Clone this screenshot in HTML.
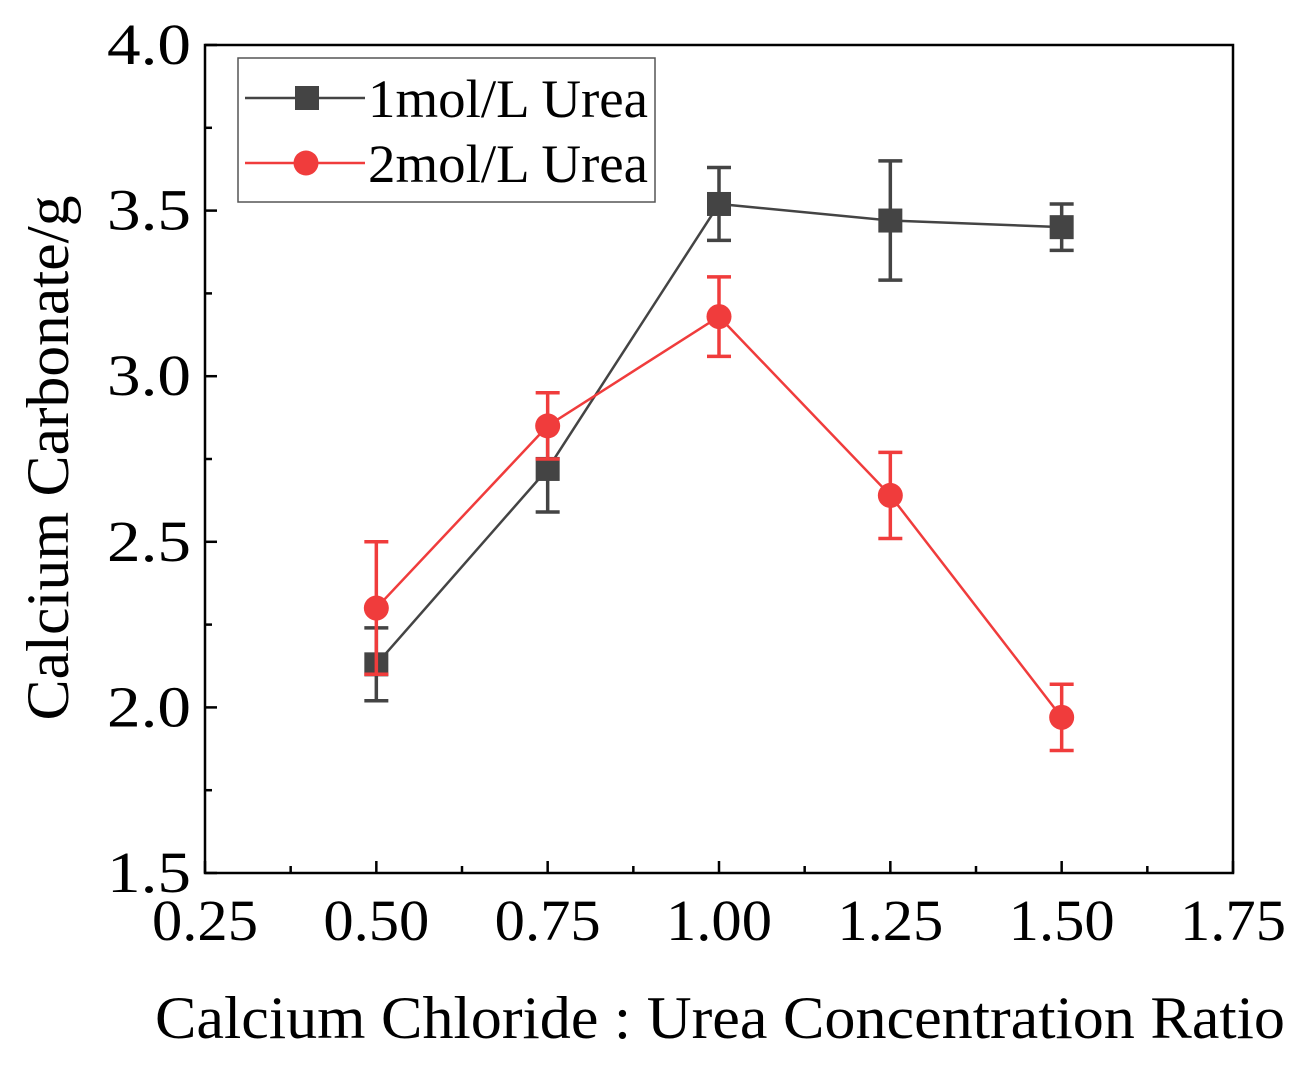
<!DOCTYPE html>
<html><head><meta charset="utf-8"><style>
html,body{margin:0;padding:0;background:#fff;width:1308px;height:1067px;overflow:hidden}
text{font-family:"Liberation Serif",serif;fill:#000}
</style></head><body>
<svg id="chart" width="1308" height="1067" xmlns="http://www.w3.org/2000/svg"></svg>
<script>
const categories=[0.5,0.75,1.0,1.25,1.5];
const s1Values=[2.13,2.72,3.52,3.47,3.45];
const s1Errors=[0.11,0.13,0.11,0.18,0.07];
const s2Values=[2.30,2.85,3.18,2.64,1.97];
const s2Errors=[0.20,0.10,0.12,0.13,0.10];
const xTicks=[0.25,0.5,0.75,1.0,1.25,1.5,1.75];
const xTickLabels=["0.25","0.50","0.75","1.00","1.25","1.50","1.75"];
const yTicks=[1.5,2.0,2.5,3.0,3.5,4.0];
const yTickLabels=["1.5","2.0","2.5","3.0","3.5","4.0"];

const L=205,R=1233,T=45,B=873;
const X=v=>L+(v-0.25)/1.5*(R-L);
const Y=v=>B-(v-1.5)/2.5*(B-T);
const svg=document.getElementById('chart');
const NS='http://www.w3.org/2000/svg';
function mk(tag,attrs,parent){const e=document.createElementNS(NS,tag);for(const k in attrs)e.setAttribute(k,attrs[k]);(parent||svg).appendChild(e);return e;}

let frame=mk('rect',{x:L,y:T,width:R-L,height:B-T,fill:'none',stroke:'#000','stroke-width':2.5});



xTicks.forEach((v,i)=>{
  let t=mk('line',{x1:X(v),x2:X(v),y1:B,y2:B-12,stroke:'#000','stroke-width':2.5});
  
  
  if(i<xTicks.length-1){let m=mk('line',{x1:X(v+0.125),x2:X(v+0.125),y1:B,y2:B-7,stroke:'#000','stroke-width':2.5});
  
  }
  let l=mk('text',{x:X(v),y:B+67,'text-anchor':'middle','font-size':58,textLength:106,lengthAdjust:'spacingAndGlyphs'});
  l.textContent=xTickLabels[i];
  
  
});
yTicks.forEach((v,i)=>{
  let t=mk('line',{x1:L,x2:L+12,y1:Y(v),y2:Y(v),stroke:'#000','stroke-width':2.5});
  
  
  if(i<yTicks.length-1){let m=mk('line',{x1:L,x2:L+7,y1:Y(v+0.25),y2:Y(v+0.25),stroke:'#000','stroke-width':2.5});
  
  }
  let l=mk('text',{x:L-14,y:Y(v)+19,'text-anchor':'end','font-size':58,textLength:84,lengthAdjust:'spacingAndGlyphs'});
  l.textContent=yTickLabels[i];
  
  
});
let xt=mk('text',{x:720,y:1038,'text-anchor':'middle','font-size':60,textLength:1130,lengthAdjust:'spacingAndGlyphs'});
xt.textContent='Calcium Chloride : Urea Concentration Ratio';


let yt=mk('text',{x:0,y:0,'text-anchor':'middle','font-size':60,textLength:525,lengthAdjust:'spacingAndGlyphs',transform:'translate(68,458) rotate(-90)'});
yt.textContent='Calcium Carbonate/g';



function series(vals,errs,color,shape,name){
  const g=mk('g',{});
  
  
  mk('polyline',{points:categories.map((c,i)=>X(c)+','+Y(vals[i])).join(' '),fill:'none',stroke:color,'stroke-width':2.5},g);
  categories.forEach((c,i)=>{
    const x=X(c),y1=Y(vals[i]+errs[i]),y2=Y(vals[i]-errs[i]);
    mk('path',{d:`M${x},${y1}V${y2}M${x-12},${y1}H${x+12}M${x-12},${y2}H${x+12}`,stroke:color,'stroke-width':3.5,fill:'none'},g);
    let p;
    if(shape==='sq') p=mk('rect',{x:x-12,y:Y(vals[i])-12,width:24,height:24,fill:color},g);
    else p=mk('circle',{cx:x,cy:Y(vals[i]),r:12.5,fill:color},g);
    
    
  });
}
series(s1Values,s1Errors,'#444','sq','series-1mol');
series(s2Values,s2Errors,'#f03c3c','ci','series-2mol');

const lg=mk('g',{});


mk('rect',{x:238,y:58,width:417,height:144,fill:'#fff',stroke:'#555','stroke-width':1.5},lg);
mk('line',{x1:245,x2:365,y1:98,y2:98,stroke:'#444','stroke-width':2.5},lg);
mk('rect',{x:295,y:86,width:24,height:24,fill:'#444'},lg);
let t1=mk('text',{x:368,y:117,'font-size':54,textLength:280,lengthAdjust:'spacingAndGlyphs'},lg);t1.textContent='1mol/L Urea';


mk('line',{x1:245,x2:365,y1:163,y2:163,stroke:'#f03c3c','stroke-width':2.5},lg);
mk('circle',{cx:306,cy:163,r:12.5,fill:'#f03c3c'},lg);
let t2=mk('text',{x:368,y:182,'font-size':54,textLength:280,lengthAdjust:'spacingAndGlyphs'},lg);t2.textContent='2mol/L Urea';


</script>
</body></html>
